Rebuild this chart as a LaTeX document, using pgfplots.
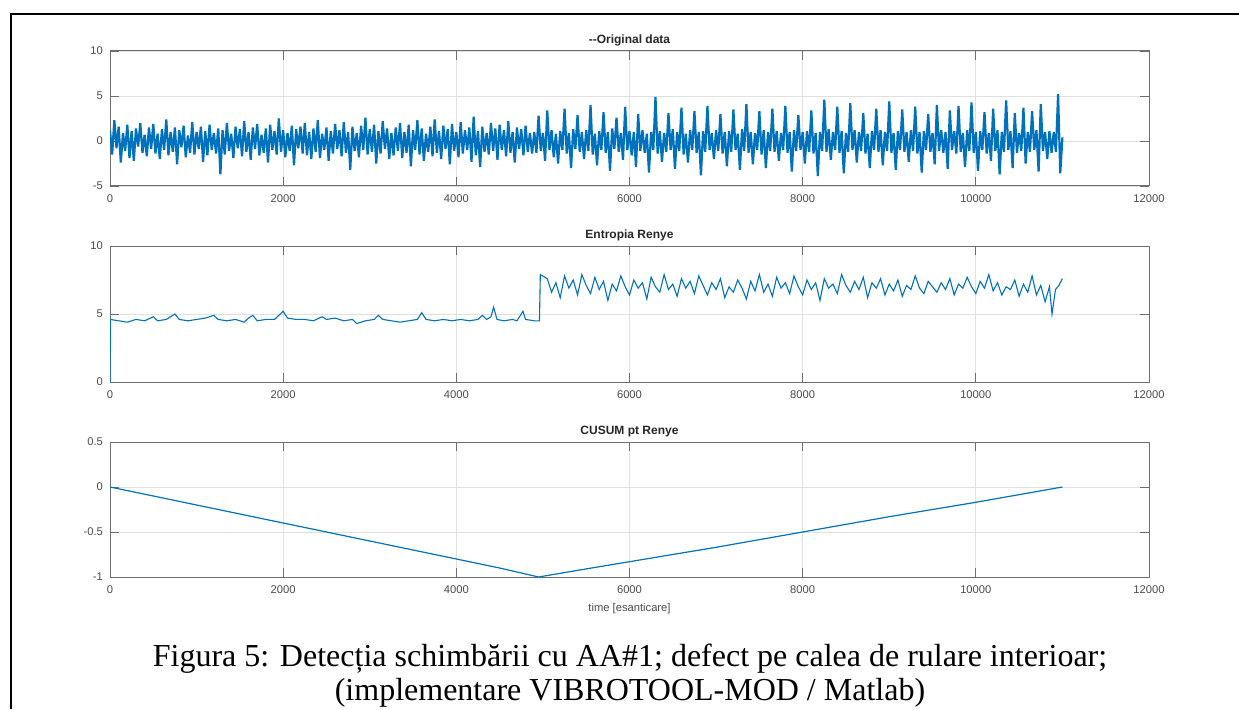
\documentclass[border=0pt]{standalone}
\usepackage{fontspec}
\setmainfont{Liberation Serif}
\setsansfont{Liberation Sans}
\usepackage{pgfplots}
\pgfplotsset{compat=1.18}
\definecolor{mblue}{RGB}{0,114,189}
\definecolor{axgray}{RGB}{110,110,110}
\definecolor{tickgray}{RGB}{75,75,75}
\pgfplotsset{
  mstyle/.style={
    scale only axis, width=519.5pt, height=67.5pt,
    anchor=south west,
    xmin=0, xmax=12000,
    xtick={0,2000,4000,6000,8000,10000,12000},
    scaled x ticks=false, scaled y ticks=false,
    tick align=inside, xtick pos=both, ytick pos=both,
    major tick length=4.5pt,
    tick style={color=axgray, line width=0.4pt},
    axis line style={color=axgray, line width=0.5pt},
    grid=major,
    major grid style={color=black!12, line width=0.4pt},
    /pgf/number format/1000 sep={},
    /pgf/number format/assume math mode=true,
    tick label style={font=\sffamily\fontsize{5.6}{6.5}\selectfont, text=tickgray},
    xticklabel style={yshift=-1pt},
    title style={font=\sffamily\bfseries\fontsize{6}{7}\selectfont, text=black!85, at={(0.5,1)}, anchor=south, yshift=-7pt},
    every axis plot/.append style={mblue},
  }
}
\begin{document}
\begin{tikzpicture}
\useasboundingbox (0,0) rectangle (619.5pt,354.5pt);
\draw[line width=1.4pt] (5.5pt,0pt) -- (5.5pt,347.5pt) -- (619.5pt,347.5pt);

\begin{axis}[mstyle, at={(55pt,261.5pt)}, ymin=-5, ymax=10, ytick={-5,0,5,10},
  title={{-}{-}Original data}]
\addplot[line width=1.1pt, line join=bevel] table[row sep=\\, header=false, x expr=\coordindex*25, y index=0] {
1.2\\ -1.5\\ 2.3\\ -0.8\\ 1.6\\ -2.4\\ 0.9\\ -1.1\\ 1.8\\ -1.9\\
1.1\\ -2.2\\ 1.4\\ -0.6\\ 2.0\\ -1.3\\ 0.7\\ -1.7\\ 1.5\\ -0.9\\
1.9\\ -1.4\\ 0.8\\ -2.0\\ 1.3\\ -1.0\\ 2.4\\ -1.6\\ 1.0\\ -1.2\\
1.5\\ -2.6\\ 1.2\\ -0.7\\ 1.7\\ -1.8\\ 0.6\\ -1.3\\ 2.1\\ -1.5\\
1.0\\ -0.9\\ 1.6\\ -2.3\\ 1.1\\ -1.6\\ 1.8\\ -1.0\\ 0.9\\ -1.4\\
1.4\\ -3.7\\ 1.2\\ -1.5\\ 2.0\\ -1.1\\ 0.8\\ -1.9\\ 1.6\\ -0.8\\
1.3\\ -1.7\\ 2.2\\ -1.2\\ 1.0\\ -2.1\\ 1.5\\ -0.9\\ 1.9\\ -1.6\\
0.7\\ -1.3\\ 1.4\\ -2.4\\ 1.8\\ -1.0\\ 1.1\\ -1.5\\ 2.5\\ -1.2\\
1.2\\ -1.8\\ 0.9\\ -1.1\\ 1.7\\ -2.7\\ 1.3\\ -0.8\\ 1.6\\ -1.4\\
2.0\\ -1.6\\ 1.0\\ -2.0\\ 1.4\\ -1.2\\ 2.3\\ -1.9\\ 0.8\\ -1.0\\
1.5\\ -2.2\\ 1.1\\ -1.4\\ 1.9\\ -0.9\\ 1.2\\ -1.7\\ 2.1\\ -1.3\\
1.0\\ -3.2\\ 1.6\\ -1.1\\ 0.9\\ -1.8\\ 1.7\\ -1.0\\ 2.6\\ -1.5\\
1.3\\ -1.2\\ 1.8\\ -2.5\\ 1.1\\ -1.4\\ 2.2\\ -0.9\\ 1.4\\ -2.0\\
0.9\\ -1.6\\ 1.5\\ -1.1\\ 2.0\\ -1.9\\ 1.0\\ -1.3\\ 1.8\\ -2.8\\
1.2\\ -1.0\\ 2.3\\ -1.5\\ 1.4\\ -2.2\\ 0.8\\ -1.2\\ 1.6\\ -1.7\\
2.4\\ -1.3\\ 1.1\\ -2.0\\ 1.7\\ -0.9\\ 1.3\\ -2.6\\ 1.9\\ -1.1\\
1.0\\ -1.8\\ 2.1\\ -1.4\\ 1.2\\ -1.0\\ 1.5\\ -2.3\\ 2.7\\ -1.6\\
1.1\\ -2.9\\ 1.6\\ -1.2\\ 0.9\\ -1.5\\ 2.0\\ -1.1\\ 1.4\\ -2.1\\
1.8\\ -1.0\\ 1.2\\ -1.7\\ 2.2\\ -1.3\\ 1.0\\ -2.4\\ 1.5\\ -0.9\\
1.3\\ -1.6\\ 1.7\\ -1.2\\ 0.9\\ -1.4\\
1.0\\ -1.3\\ 2.8\\ -1.1\\ 0.9\\ -2.2\\ 3.4\\ -1.0\\ 1.2\\ -1.8\\
0.8\\ -2.5\\ 1.1\\ -1.0\\ 3.6\\ -1.4\\ 0.9\\ -3.0\\ 1.3\\ -0.9\\
2.9\\ -1.2\\ 1.0\\ -2.0\\ 1.2\\ -1.1\\ 4.0\\ -1.5\\ 0.8\\ -2.7\\
1.1\\ -1.0\\ 3.2\\ -1.3\\ 1.0\\ -3.3\\ 1.4\\ -0.9\\ 2.6\\ -1.2\\
0.9\\ -2.1\\ 3.8\\ -1.0\\ 1.1\\ -1.6\\ 1.0\\ -2.9\\ 3.0\\ -1.1\\
1.2\\ -1.3\\ 0.8\\ -3.5\\ 1.0\\ -1.0\\ 4.9\\ -1.4\\ 1.1\\ -2.3\\
0.9\\ -1.2\\ 3.1\\ -1.0\\ 1.3\\ -3.1\\ 1.0\\ -1.1\\ 3.7\\ -1.5\\
0.8\\ -2.4\\ 1.2\\ -1.0\\ 3.3\\ -1.3\\ 1.0\\ -3.8\\ 1.1\\ -1.2\\
3.9\\ -1.0\\ 0.9\\ -2.0\\ 1.2\\ -1.1\\ 3.0\\ -1.4\\ 1.0\\ -2.8\\
1.1\\ -1.2\\ 3.5\\ -1.0\\ 0.8\\ -3.2\\ 1.3\\ -1.1\\ 4.1\\ -1.3\\
1.0\\ -2.6\\ 0.9\\ -1.0\\ 3.3\\ -1.5\\ 1.2\\ -3.0\\ 1.0\\ -1.1\\
3.6\\ -1.2\\ 1.1\\ -2.2\\ 0.9\\ -1.0\\ 3.9\\ -1.3\\ 1.0\\ -3.4\\
1.2\\ -1.1\\ 2.9\\ -1.0\\ 1.0\\ -2.5\\ 1.1\\ -1.2\\ 3.4\\ -1.4\\
0.9\\ -3.9\\ 1.0\\ -1.1\\ 4.6\\ -1.2\\ 1.3\\ -2.1\\ 1.0\\ -1.0\\
3.8\\ -1.3\\ 1.1\\ -3.6\\ 0.9\\ -1.2\\ 4.2\\ -1.0\\ 1.2\\ -2.4\\
1.0\\ -1.1\\ 3.1\\ -1.4\\ 0.8\\ -3.0\\ 1.1\\ -1.0\\ 3.6\\ -1.2\\
1.2\\ -2.7\\ 1.0\\ -1.1\\ 4.4\\ -1.3\\ 0.9\\ -3.2\\ 1.1\\ -1.0\\
3.5\\ -1.2\\ 1.0\\ -2.3\\ 1.2\\ -1.1\\ 3.8\\ -1.4\\ 1.0\\ -3.5\\
1.1\\ -1.0\\ 3.0\\ -1.2\\ 0.9\\ -2.6\\ 4.0\\ -1.1\\ 1.2\\ -1.3\\
1.0\\ -3.1\\ 3.4\\ -1.0\\ 1.1\\ -1.4\\ 3.9\\ -1.2\\ 0.9\\ -2.9\\
1.2\\ -1.1\\ 4.3\\ -1.3\\ 1.0\\ -3.3\\ 1.1\\ -1.0\\ 3.2\\ -1.4\\
0.9\\ -2.2\\ 3.6\\ -1.1\\ 1.2\\ -3.7\\ 1.0\\ -1.2\\ 4.5\\ -1.0\\
1.1\\ -3.0\\ 3.1\\ -1.3\\ 0.9\\ -1.1\\ 3.7\\ -2.5\\ 1.0\\ -1.2\\
3.3\\ -1.0\\ 1.2\\ -3.4\\ 4.1\\ -1.1\\ 1.0\\ -2.0\\ 1.1\\ -1.3\\
1.0\\ -1.2\\ 5.2\\ -3.6\\ 0.4\\
};
\end{axis}

\begin{axis}[mstyle, at={(55pt,163.5pt)}, height=68pt, ymin=0, ymax=10, ytick={0,5,10},
  title={Entropia Renye}]
\addplot[line width=0.55pt] coordinates {
(0,0) (5,4.6) (100,4.5) (200,4.4) (300,4.6) (400,4.5) (500,4.8) (550,4.5) (650,4.6) (750,5.0)
(800,4.6) (900,4.5) (1000,4.6) (1100,4.7) (1200,4.9) (1250,4.6) (1350,4.5) (1450,4.6) (1550,4.4) (1600,4.7)
(1650,4.9) (1700,4.5) (1800,4.6) (1900,4.6) (2000,5.2) (2050,4.7) (2150,4.6) (2250,4.6) (2350,4.5) (2450,4.8)
(2500,4.6) (2600,4.7) (2700,4.5) (2800,4.6) (2850,4.3) (2950,4.5) (3050,4.6) (3100,4.9) (3150,4.6) (3250,4.5)
(3350,4.4) (3450,4.5) (3550,4.6) (3600,5.1) (3650,4.6) (3750,4.5) (3850,4.6) (3950,4.5) (4050,4.6) (4150,4.5)
(4250,4.6) (4300,4.9) (4350,4.6) (4400,4.8) (4430,5.5) (4470,4.6) (4550,4.5) (4650,4.6) (4700,4.5) (4770,5.2)
(4800,4.6) (4900,4.5) (4960,4.5) (4970,7.9) (5050,7.6)
(5100,6.6) (5150,7.3) (5200,6.2) (5250,7.8) (5300,6.9) (5350,7.5) (5400,6.4) (5450,7.9) (5500,7.1) (5550,6.5)
(5600,7.7) (5650,6.8) (5700,7.4) (5750,6.0) (5800,7.2) (5850,6.7) (5900,7.8) (5950,7.0) (6000,6.4) (6050,7.5)
(6100,6.9) (6150,7.3) (6200,6.1) (6250,7.7) (6300,7.0) (6350,6.6) (6400,7.9) (6450,6.8) (6500,7.2) (6550,6.3)
(6600,7.6) (6650,6.9) (6700,7.4) (6750,6.5) (6800,7.8) (6850,7.1) (6900,6.4) (6950,7.3) (7000,6.8) (7050,7.6)
(7100,6.2) (7150,7.0) (7200,6.6) (7250,7.5) (7300,6.9) (7350,6.1) (7400,7.4) (7450,6.7) (7500,7.9) (7550,6.6)
(7600,7.2) (7650,6.3) (7700,7.7) (7750,6.9) (7800,7.3) (7850,6.5) (7900,7.8) (7950,7.0) (8000,6.4) (8050,7.5)
(8100,6.8) (8150,7.3) (8200,6.0) (8250,7.6) (8300,6.9) (8350,7.2) (8400,6.5) (8450,7.9) (8500,7.1) (8550,6.6)
(8600,7.4) (8650,6.8) (8700,7.7) (8750,6.2) (8800,7.3) (8850,6.9) (8900,7.6) (8950,6.4) (9000,7.2) (9050,6.7)
(9100,7.5) (9150,6.3) (9200,7.1) (9250,6.8) (9300,7.8) (9350,6.9) (9400,6.5) (9450,7.4) (9500,7.0) (9550,6.6)
(9600,7.3) (9650,6.8) (9700,7.6) (9750,6.4) (9800,7.2) (9850,6.9) (9900,7.7) (9950,7.0) (10000,6.5) (10050,7.4)
(10100,6.9) (10150,7.9) (10200,6.7) (10250,7.3) (10300,6.4) (10350,7.0) (10400,6.8) (10450,7.5) (10500,6.3) (10550,7.2)
(10600,6.6) (10650,7.8) (10700,6.4) (10750,7.1) (10800,5.9) (10850,7.0) (10880,5.0) (10920,6.8) (10960,7.1) (11000,7.6)
};
\end{axis}

\begin{axis}[mstyle, at={(55pt,66pt)}, ymin=-1, ymax=0.5, ytick={-1,-0.5,0,0.5},
  title={CUSUM pt Renye},
  xlabel={time [esanticare]},
  xlabel style={font=\sffamily\fontsize{5.6}{6.5}\selectfont, text=tickgray, yshift=2pt}]
\addplot[line width=0.6pt] coordinates {
(0,0) (500,-0.1) (1000,-0.2) (1500,-0.3) (2000,-0.4) (2500,-0.5) (3000,-0.6) (3500,-0.7)
(4000,-0.8) (4500,-0.9) (4950,-1.0) (5500,-0.91) (6000,-0.83) (7000,-0.67) (8000,-0.5)
(9000,-0.33) (10000,-0.17) (11000,0)
};
\end{axis}

\node[anchor=base, font=\fontsize{16}{18}\selectfont] at (315pt,21.5pt)
  {Figura 5: Detecția schimbării cu AA\#1; defect pe calea de rulare interioar;};
\node[anchor=base, font=\fontsize{16}{18}\selectfont] at (315pt,4.5pt)
  {(implementare VIBROTOOL-MOD / Matlab)};
\end{tikzpicture}
\end{document}
